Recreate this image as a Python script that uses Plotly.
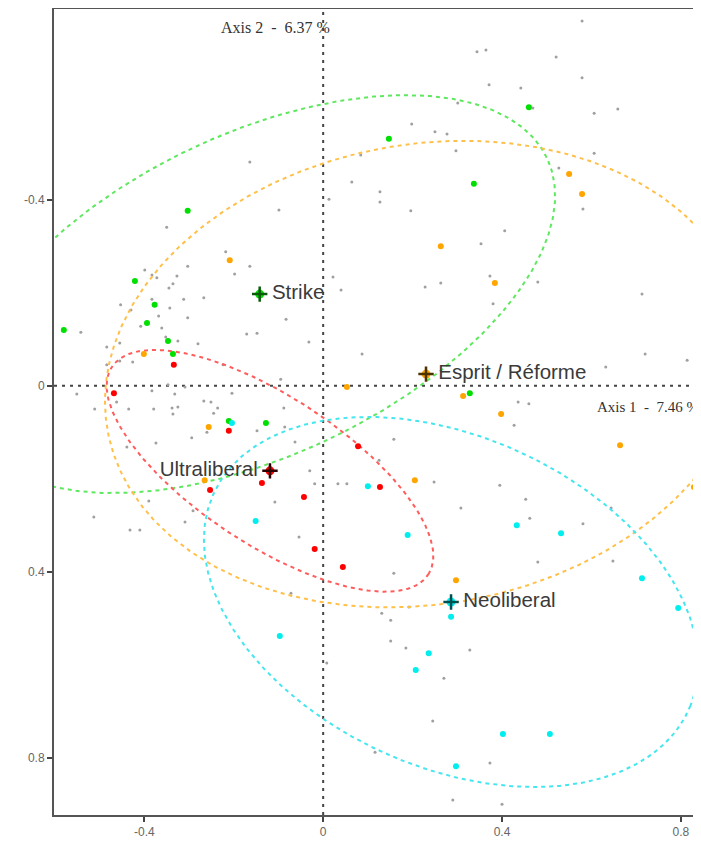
import numpy as np
import plotly.graph_objects as go

# ---------------- data ----------------
groups = ["Strike", "Esprit / Réforme", "Ultraliberal", "Neoliberal"]
centroid_x = [-0.142, 0.230, -0.119, 0.286]
centroid_y = [-0.197, -0.025, 0.183, 0.465]

# ellipse parameters: semi-major, semi-minor, rotation (deg, data space)
ell_a = [0.706, 0.7225, 0.4185, 0.580]
ell_b = [0.348, 0.495, 0.161, 0.357]
ell_angle = [-23.9, -8.8, 31.9, 22.6]

strike_x = [-0.303, -0.421, 0.460, 0.147, 0.337, -0.580, -0.377, -0.394, -0.347, -0.336, -0.211, -0.128, 0.328]
strike_y = [-0.376, -0.225, -0.599, -0.531, -0.434, -0.120, -0.174, -0.135, -0.096, -0.068, 0.076, 0.080, 0.016]

esprit_x = [-0.209, 0.550, 0.579, 0.263, 0.384, -0.401, -0.256, -0.265, 0.053, 0.313, 0.398, 0.664, 0.205, 0.829, 0.297]
esprit_y = [-0.270, -0.455, -0.412, -0.300, -0.221, -0.068, 0.089, 0.203, 0.003, 0.022, 0.061, 0.128, 0.203, 0.218, 0.418]

ultra_x = [-0.334, -0.468, -0.211, -0.137, -0.253, -0.043, -0.019, 0.044, 0.078, 0.127]
ultra_y = [-0.045, 0.016, 0.097, 0.209, 0.224, 0.239, 0.351, 0.390, 0.130, 0.218]

neo_x = [-0.204, -0.151, 0.100, 0.433, 0.532, 0.189, 0.713, -0.097, 0.286, 0.236, 0.207, 0.402, 0.507, 0.297, 0.794]
neo_y = [0.080, 0.291, 0.216, 0.300, 0.317, 0.321, 0.414, 0.538, 0.497, 0.575, 0.611, 0.749, 0.749, 0.818, 0.478]

other_x = [-0.164, -0.099, -0.350, 0.013, -0.218, -0.303, -0.164, -0.198, -0.399, -0.383, -0.372, -0.327,
           -0.336, -0.345, 0.022, 0.040, -0.383, -0.312, -0.267, 0.579, 0.344, 0.364, 0.521, 0.579, 0.371,
           0.442, 0.301, 0.469, 0.606, 0.659, 0.198, 0.250, 0.277, 0.297, 0.084, 0.606, 0.527, 0.064, 0.127,
           0.127, 0.196, 0.581, 0.406, 0.353, 0.373, 0.480, 0.263, 0.228, 0.713, -0.453, -0.430, -0.343,
           -0.368, -0.303, -0.083, -0.408, -0.361, -0.542, -0.171, -0.148, -0.325, -0.352, -0.280, -0.455,
           -0.484, -0.032, -0.455, -0.426, -0.224, -0.484, -0.095, -0.309, -0.347, -0.551, -0.383, -0.332,
           -0.204, -0.462, -0.511, -0.435, -0.379, -0.338, -0.325, -0.336, -0.267, -0.251, -0.236, -0.245,
           -0.088, -0.086, -0.148, -0.260, -0.294, -0.374, -0.439, -0.063, -0.030, -0.019, 0.033, 0.053,
           -0.108, -0.390, -0.291, -0.309, -0.513, -0.432, -0.410, -0.054, -0.072, 0.380, 0.087, 0.720,
           0.814, 0.632, 0.436, 0.460, 0.427, 0.158, 0.125, 0.248, 0.395, 0.453, 0.308, 0.462, 0.581, 0.644,
           0.480, 0.648, 0.158, 0.008, 0.131, 0.151, 0.192, 0.151, 0.185, 0.328, 0.270, 0.245, 0.116, 0.373,
           0.290, 0.400]
other_y = [-0.481, -0.378, -0.341, -0.401, -0.288, -0.257, -0.257, -0.240, -0.249, -0.238, -0.232, -0.236,
           -0.219, -0.210, -0.234, -0.206, -0.186, -0.186, -0.189, -0.784, -0.718, -0.722, -0.707, -0.662,
           -0.647, -0.640, -0.608, -0.597, -0.586, -0.595, -0.563, -0.546, -0.541, -0.505, -0.496, -0.500,
           -0.468, -0.438, -0.417, -0.395, -0.376, -0.380, -0.333, -0.305, -0.236, -0.223, -0.221, -0.212,
           -0.197, -0.174, -0.163, -0.167, -0.150, -0.146, -0.143, -0.128, -0.124, -0.115, -0.111, -0.113,
           -0.096, -0.105, -0.090, -0.092, -0.083, -0.094, -0.053, -0.051, -0.045, -0.045, -0.014, 0.003,
           -0.002, 0.018, 0.011, 0.018, 0.016, 0.035, 0.050, 0.050, 0.050, 0.048, 0.046, 0.061, 0.033, 0.035,
           0.048, 0.059, 0.048, 0.089, 0.097, 0.100, 0.112, 0.123, 0.132, 0.121, 0.183, 0.211, 0.211, 0.211,
           0.250, 0.248, 0.269, 0.293, 0.282, 0.310, 0.310, 0.325, 0.446, -0.176, -0.068, -0.068, -0.055,
           -0.040, 0.035, 0.039, 0.085, 0.115, 0.160, 0.207, 0.214, 0.244, 0.263, 0.285, 0.297, 0.263, 0.379,
           0.377, 0.403, 0.596, 0.489, 0.504, 0.476, 0.549, 0.564, 0.568, 0.629, 0.721, 0.788, 0.811, 0.891,
           0.900]

tick_vals = [-0.4, 0, 0.4, 0.8]
tick_text = ["-0.4", "0", "0.4", "0.8"]
axis1_label = "Axis 1 \u00a0-\u00a0 7.46 %"
axis2_label = "Axis 2 \u00a0-\u00a0 6.37 %"

# ---------------- styles ----------------
dot_colors = ["#00e000", "#ffa500", "#ff0000", "#00eeee"]
ell_colors = ["#5fe85f", "#ffc04a", "#ff5c5c", "#45e6ee"]
cross_colors = ["#0a5a0a", "#4a3300", "#2a0000", "#005050"]
label_pos = ["middle right", "middle right", "middle left", "middle right"]

members_x = [strike_x, esprit_x, ultra_x, neo_x]
members_y = [strike_y, esprit_y, ultra_y, neo_y]

fig = go.Figure()

# other individuals
fig.add_trace(go.Scatter(x=other_x, y=other_y, mode="markers",
                         marker=dict(size=3, color="#a0a0a0"), hoverinfo="skip"))

# ellipses
t = np.linspace(0, 2 * np.pi, 400)
for i in range(4):
    phi = np.deg2rad(ell_angle[i])
    ex = centroid_x[i] + ell_a[i] * np.cos(t) * np.cos(phi) - ell_b[i] * np.sin(t) * np.sin(phi)
    ey = centroid_y[i] + ell_a[i] * np.cos(t) * np.sin(phi) + ell_b[i] * np.sin(t) * np.cos(phi)
    fig.add_trace(go.Scatter(x=ex, y=ey, mode="lines",
                             line=dict(color=ell_colors[i], width=2, dash="4px,4px"),
                             hoverinfo="skip"))

# group members
for i in range(4):
    fig.add_trace(go.Scatter(x=members_x[i], y=members_y[i], mode="markers",
                             marker=dict(size=6, color=dot_colors[i]), hoverinfo="skip"))

# centroids
for i in range(4):
    fig.add_trace(go.Scatter(x=[centroid_x[i]], y=[centroid_y[i]], mode="markers",
                             marker=dict(size=9, color=dot_colors[i]), hoverinfo="skip"))
    fig.add_trace(go.Scatter(x=[centroid_x[i]], y=[centroid_y[i]], mode="markers",
                             marker=dict(symbol="cross-thin", size=11,
                                         line=dict(width=2.5, color=cross_colors[i])),
                             hoverinfo="skip"))
    fig.add_trace(go.Scatter(x=[centroid_x[i]], y=[centroid_y[i]], mode="markers+text",
                             text=[groups[i]], textposition=label_pos[i],
                             textfont=dict(family="Liberation Sans, Arial", size=20.5, color="#3a3a3a"),
                             marker=dict(size=18, opacity=0), hoverinfo="skip"))

# dotted axes through the origin
fig.add_shape(type="line", xref="x", yref="paper", x0=0, x1=0, y0=0, y1=1,
              line=dict(color="#444444", width=2, dash="3px,5px"), layer="below")
fig.add_shape(type="line", xref="paper", yref="y", x0=0, x1=1, y0=0, y1=0,
              line=dict(color="#444444", width=2, dash="3px,5px"), layer="below")

fig.add_annotation(x=0.02, y=-0.77, xref="x", yref="y", text=axis2_label, showarrow=False,
                   xanchor="right", yanchor="middle",
                   font=dict(family="Liberation Serif, Times New Roman", size=16, color="#333333"))
fig.add_annotation(x=1.0, y=0.046, xref="paper", yref="y", text=axis1_label, showarrow=False,
                   xanchor="right", yanchor="middle",
                   font=dict(family="Liberation Serif, Times New Roman", size=15, color="#333333"))

# the page body has an 8px margin, so the figure is sized to end at the window edge
fig.update_layout(
    width=693, height=837,
    margin=dict(l=46, r=0, t=1, b=30),
    paper_bgcolor="white", plot_bgcolor="white",
    showlegend=False,
    xaxis=dict(range=[-0.602, 0.845], showgrid=False, zeroline=False,
               showline=True, linecolor="#555555", linewidth=2, mirror=True,
               ticks="outside", ticklen=5, tickwidth=2, tickcolor="#444444",
               tickvals=tick_vals, ticktext=tick_text,
               tickfont=dict(family="Liberation Sans, Arial", size=12, color="#666666")),
    yaxis=dict(range=[0.923, -0.81], showgrid=False, zeroline=False,
               showline=True, linecolor="#555555", linewidth=2, mirror=False,
               ticks="outside", ticklen=5, tickwidth=2, tickcolor="#444444",
               tickvals=tick_vals, ticktext=tick_text,
               tickfont=dict(family="Liberation Sans, Arial", size=12, color="#666666")),
)

fig.write_html("out.html")
